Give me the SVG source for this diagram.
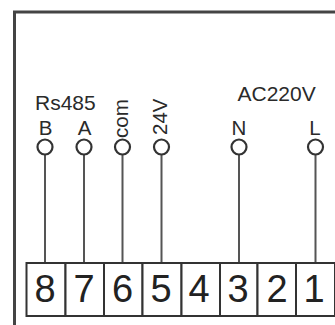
<svg xmlns="http://www.w3.org/2000/svg" width="335" height="325" viewBox="0 0 335 325">
<style>
text{font-family:"Liberation Sans",Arial,sans-serif;fill:#2a2a2a}
.l{font-size:20.500px;text-anchor:middle}
.n{font-size:38px;text-anchor:middle;fill:#222}
.w{stroke:#555;stroke-width:2;fill:none}
.c{stroke:#333;stroke-width:2.200;fill:#fff}
.b{stroke:#333;stroke-width:2;fill:#fff}
</style>
<rect width="335" height="325" fill="#fff"/>
<g id="frame"><path d="M335 12H14.500V325" fill="none" stroke="#444" stroke-width="3"/></g>
<g id="connectors">
<path class="w" d="M45 155V263M84 155V263M122.500 155V263M161.500 155V263M239 155V263M315.500 155V263"/>
</g>
<g id="terminal-8"><rect class="b" x="26.500" y="263" width="39" height="53"/><text class="n" x="45" y="302">8</text></g>
<g id="terminal-7"><rect class="b" x="65.500" y="263" width="38.500" height="53"/><text class="n" x="84" y="302">7</text></g>
<g id="terminal-6"><rect class="b" x="104" y="263" width="38.500" height="53"/><text class="n" x="122.500" y="302">6</text></g>
<g id="terminal-5"><rect class="b" x="142.500" y="263" width="39" height="53"/><text class="n" x="161" y="302">5</text></g>
<g id="terminal-4"><rect class="b" x="181.500" y="263" width="38.500" height="53"/><text class="n" x="199" y="302">4</text></g>
<g id="terminal-3"><rect class="b" x="220" y="263" width="37.500" height="53"/><text class="n" x="238" y="302">3</text></g>
<g id="terminal-2"><rect class="b" x="257.500" y="263" width="38.500" height="53"/><text class="n" x="277" y="302">2</text></g>
<g id="terminal-1"><rect class="b" x="296" y="263" width="39" height="53"/><text class="n" x="314" y="302">1</text></g>
<g id="pin-b"><circle class="c" cx="45" cy="147" r="7.500"/><text class="l" x="45.500" y="135">B</text></g>
<g id="pin-a"><circle class="c" cx="84" cy="147" r="7.500"/><text class="l" x="84.500" y="135">A</text></g>
<g id="pin-com"><circle class="c" cx="122.500" cy="147" r="7.500"/><text class="l" transform="translate(128 138) rotate(-90)" style="text-anchor:start">com</text></g>
<g id="pin-24v"><circle class="c" cx="161.500" cy="147" r="7.500"/><text class="l" transform="translate(167 135) rotate(-90)" style="text-anchor:start">24V</text></g>
<g id="pin-n"><circle class="c" cx="239" cy="147" r="7.500"/><text class="l" x="239" y="135">N</text></g>
<g id="pin-l"><circle class="c" cx="315.500" cy="147" r="7.500"/><text class="l" x="315" y="135">L</text></g>
<text id="label-rs485" x="35" y="110" style="font-size:21px">Rs485</text>
<text id="label-ac220v" x="237.500" y="100.500" style="font-size:21px">AC220V</text>
</svg>
